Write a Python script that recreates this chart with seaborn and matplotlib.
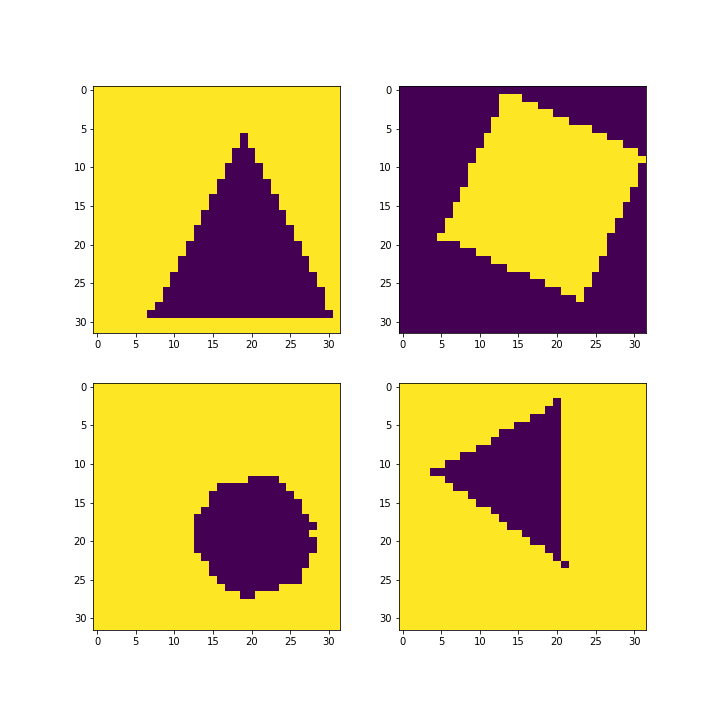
import numpy as np
import matplotlib
matplotlib.use("Agg")
import matplotlib.pyplot as plt
import seaborn as sns

N = 32

# Panel 1: triangle (shape value 0 on background 1)
tri_rows   = [6, 7, 8, 9, 10, 11, 12, 13, 14, 15, 16, 17, 18, 19, 20, 21, 22, 23, 24, 25, 26, 27, 28, 29]
tri_starts = [19, 19, 18, 18, 17, 17, 16, 16, 15, 15, 14, 14, 13, 13, 12, 12, 11, 11, 10, 10, 9, 9, 8, 7]
tri_ends   = [19, 19, 20, 20, 21, 21, 22, 22, 23, 23, 24, 24, 25, 25, 26, 26, 27, 27, 28, 28, 29, 29, 29, 30]

# Panel 2: rotated square (shape value 1 on background 0)
sq_rows   = [1, 2, 3, 4, 5, 6, 7, 8, 9, 10, 11, 12, 13, 14, 15, 16, 17, 18, 19, 20, 21, 22, 23, 24, 25, 26, 27]
sq_starts = [13, 13, 13, 12, 12, 11, 11, 10, 10, 9, 9, 9, 8, 8, 7, 7, 6, 6, 5, 8, 10, 12, 14, 17, 19, 21, 23]
sq_ends   = [15, 17, 19, 21, 24, 26, 28, 30, 31, 30, 30, 30, 29, 29, 28, 28, 27, 27, 26, 26, 26, 25, 25, 24, 24, 23, 23]

# Panel 3: circle (shape value 0 on background 1)
cir_rows   = [12, 13, 14, 15, 16, 17, 18, 19, 20, 21, 22, 23, 24, 25, 26, 27]
cir_starts = [20, 16, 15, 15, 14, 13, 13, 13, 13, 13, 14, 15, 15, 16, 17, 19]
cir_ends   = [23, 24, 25, 26, 26, 27, 28, 27, 28, 28, 27, 27, 26, 26, 23, 20]

# Panel 4: left-pointing triangle (shape value 0 on background 1)
arr_rows   = [2, 3, 4, 5, 6, 7, 8, 9, 10, 11, 12, 13, 14, 15, 16, 17, 18, 19, 20, 21, 22, 23]
arr_starts = [20, 19, 17, 15, 13, 12, 10, 8, 6, 4, 6, 7, 9, 10, 12, 13, 14, 16, 17, 19, 20, 21]
arr_ends   = [20, 20, 20, 20, 20, 20, 20, 20, 20, 20, 20, 20, 20, 20, 20, 20, 20, 20, 20, 20, 20, 21]

backgrounds = [1, 0, 1, 1]
shape_vals  = [0, 1, 0, 0]
tick_vals   = [0, 5, 10, 15, 20, 25, 30]


def build(rows, starts, ends, bg, val):
    m = np.full((N, N), bg, dtype=float)
    for r, s, e in zip(rows, starts, ends):
        m[r, s:e + 1] = val
    return m


mats = [
    build(tri_rows, tri_starts, tri_ends, backgrounds[0], shape_vals[0]),
    build(sq_rows, sq_starts, sq_ends, backgrounds[1], shape_vals[1]),
    build(cir_rows, cir_starts, cir_ends, backgrounds[2], shape_vals[2]),
    build(arr_rows, arr_starts, arr_ends, backgrounds[3], shape_vals[3]),
]

fig = plt.figure(figsize=(10, 10), dpi=72)
W = 247.0 / 720
positions = [
    (93.3 / 720, (720 - 333.3) / 720),
    (398.7 / 720, (720 - 333.3) / 720),
    (93.3 / 720, (720 - 630.0) / 720),
    (398.7 / 720, (720 - 630.0) / 720),
]

for m, (lx, by) in zip(mats, positions):
    ax = fig.add_axes([lx, by, W, W])
    sns.heatmap(m, ax=ax, cmap="viridis", vmin=0, vmax=1, cbar=False,
                xticklabels=False, yticklabels=False)
    ax.set_xlim(0, N)
    ax.set_ylim(N, 0)
    ax.set_xticks([t + 0.5 for t in tick_vals])
    ax.set_xticklabels([str(t) for t in tick_vals], rotation=0, fontsize=10)
    ax.set_yticks([t + 0.5 for t in tick_vals])
    ax.set_yticklabels([str(t) for t in tick_vals], rotation=0, fontsize=10)
    ax.tick_params(axis="both", length=3.5, width=0.8, color="black",
                   labelcolor="black", direction="out")
    for sp in ax.spines.values():
        sp.set_visible(True)
        sp.set_linewidth(0.8)
        sp.set_color("black")

fig.savefig("out.png", dpi=72, facecolor="white")
